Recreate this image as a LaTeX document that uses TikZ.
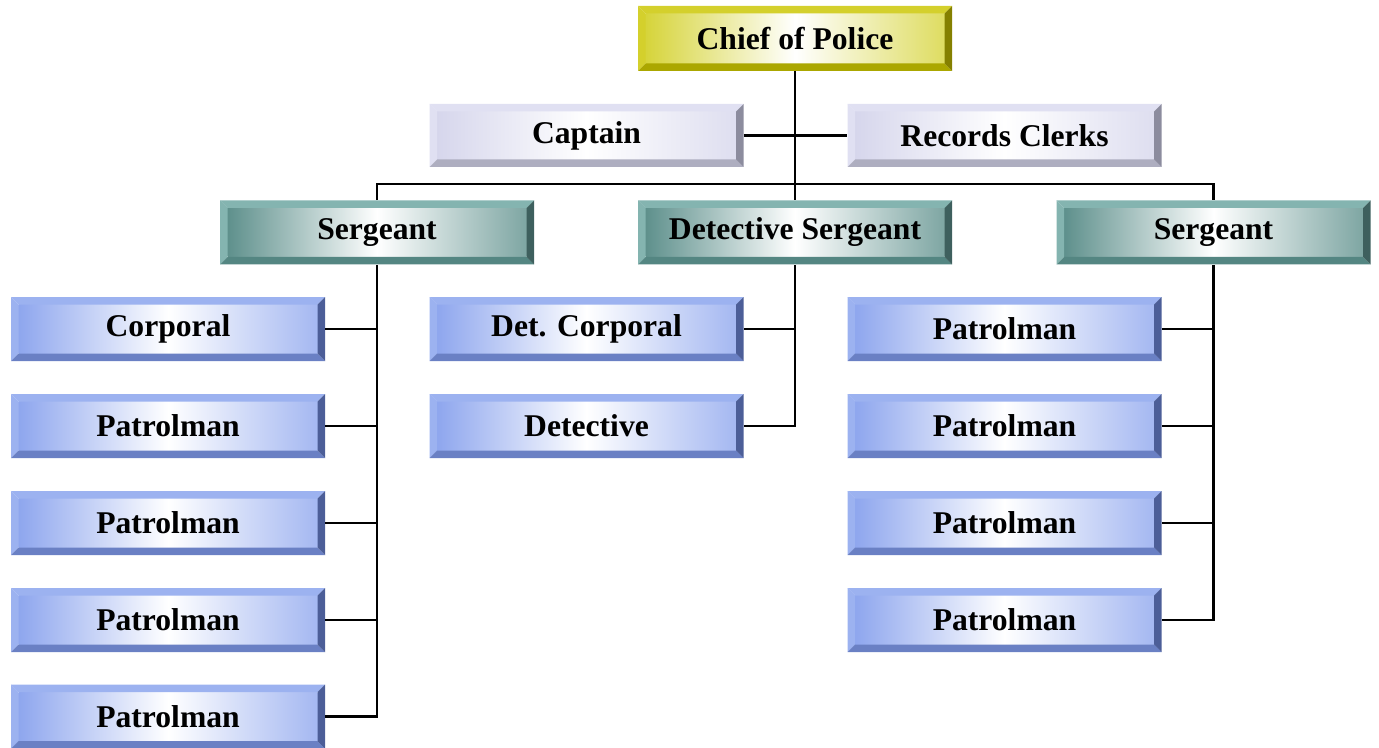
\documentclass[tikz,border=0pt]{standalone}
\usepackage{fontspec}
\setmainfont{Liberation Serif}
\usetikzlibrary{calc}

% colour sets for the beveled boxes
\definecolor{chiefface}{HTML}{D6D43A}
\definecolor{chieftop}{HTML}{D4D02C}
\definecolor{chiefright}{HTML}{858000}
\definecolor{chiefbottom}{HTML}{ABA700}
\definecolor{staffface}{HTML}{D6D6EC}
\definecolor{stafftop}{HTML}{E0E0F2}
\definecolor{staffright}{HTML}{8C8C9E}
\definecolor{staffbottom}{HTML}{AEAEC0}
\definecolor{sgtface}{HTML}{5E908C}
\definecolor{sgttop}{HTML}{84B4B0}
\definecolor{sgtright}{HTML}{3E605E}
\definecolor{sgtbottom}{HTML}{548682}
\definecolor{ptlface}{HTML}{8EA6EE}
\definecolor{ptltop}{HTML}{9CB2F0}
\definecolor{ptlright}{HTML}{4C5E98}
\definecolor{ptlbottom}{HTML}{6A80C4}

\tikzset{
  rankbox/.style={rectangle, inner sep=0pt, minimum width=6.28cm, minimum height=1.28cm,
    font=\fontsize{18}{20}\selectfont\bfseries,
    path picture={
      \coordinate (nw) at (path picture bounding box.north west);
      \coordinate (ne) at (path picture bounding box.north east);
      \coordinate (sw) at (path picture bounding box.south west);
      \coordinate (se) at (path picture bounding box.south east);
      % face
      \shade[left color=#1face, right color=#1face!80, middle color=white]
        ($(nw)+(0.15,-0.15)$) rectangle ($(se)+(-0.15,0.15)$);
      % top and left bevels
      \fill[#1top] (nw) -- (ne) -- ($(ne)+(-0.15,-0.15)$) -- ($(nw)+(0.15,-0.15)$) -- cycle;
      \fill[#1top] (nw) -- ($(nw)+(0.15,-0.15)$) -- ($(sw)+(0.15,0.15)$) -- (sw) -- cycle;
      % bottom and right bevels
      \fill[#1bottom] (sw) -- ($(sw)+(0.15,0.15)$) -- ($(se)+(-0.15,0.15)$) -- (se) -- cycle;
      \fill[#1right] (ne) -- (se) -- ($(se)+(-0.15,0.15)$) -- ($(ne)+(-0.15,-0.15)$) -- cycle;
    }},
  link/.style={draw, line width=1.3pt}
}

\begin{document}
\begin{tikzpicture}

    \useasboundingbox (0,0) rectangle (27.58,-14.96);

    % Top levels
    \node[rankbox=chief, minimum height=1.3cm] (chief) at (15.9,-0.77) {Chief of Police};
    \node[rankbox=staff, minimum height=1.26cm] (captain) at (11.73,-2.71) {Captain};
    \node[rankbox=staff, minimum height=1.26cm] (clerks) at (20.09,-2.71) {Records Clerks};

    % Sergeants
    \node[rankbox=sgt] (sgtL) at (7.54,-4.65) {Sergeant};
    \node[rankbox=sgt] (detsgt) at (15.9,-4.65) {Detective Sergeant};
    \node[rankbox=sgt] (sgtR) at (24.27,-4.65) {Sergeant};

    % Left squad
    \node[rankbox=ptl] (left1) at (3.36,-6.58) {Corporal};
    \foreach \i/\y in {2/-8.52, 3/-10.46, 4/-12.40, 5/-14.33}
      \node[rankbox=ptl] (left\i) at (3.36,\y) {Patrolman};

    % Detectives
    \node[rankbox=ptl] (det1) at (11.73,-6.58) {Det. Corporal};
    \node[rankbox=ptl] (det2) at (11.73,-8.52) {Detective};

    % Right squad
    \foreach \i/\y in {1/-6.58, 2/-8.52, 3/-10.46, 4/-12.40}
      \node[rankbox=ptl] (right\i) at (20.09,\y) {Patrolman};

    % Connectors
    \coordinate (bar) at (15.9,-3.68);
    \draw[link] (chief) -- (detsgt);
    \draw[link] (captain) -- (clerks);
    \draw[link] (sgtL.north) |- (bar) -| (sgtR.north);
    \foreach \i in {1,...,5}
      \draw[link] (left\i.east) -| (sgtL.south);
    \foreach \i in {1,2}
      \draw[link] (det\i.east) -| (detsgt.south);
    \foreach \i in {1,...,4}
      \draw[link] (right\i.east) -| (sgtR.south);

\end{tikzpicture}
\end{document}
